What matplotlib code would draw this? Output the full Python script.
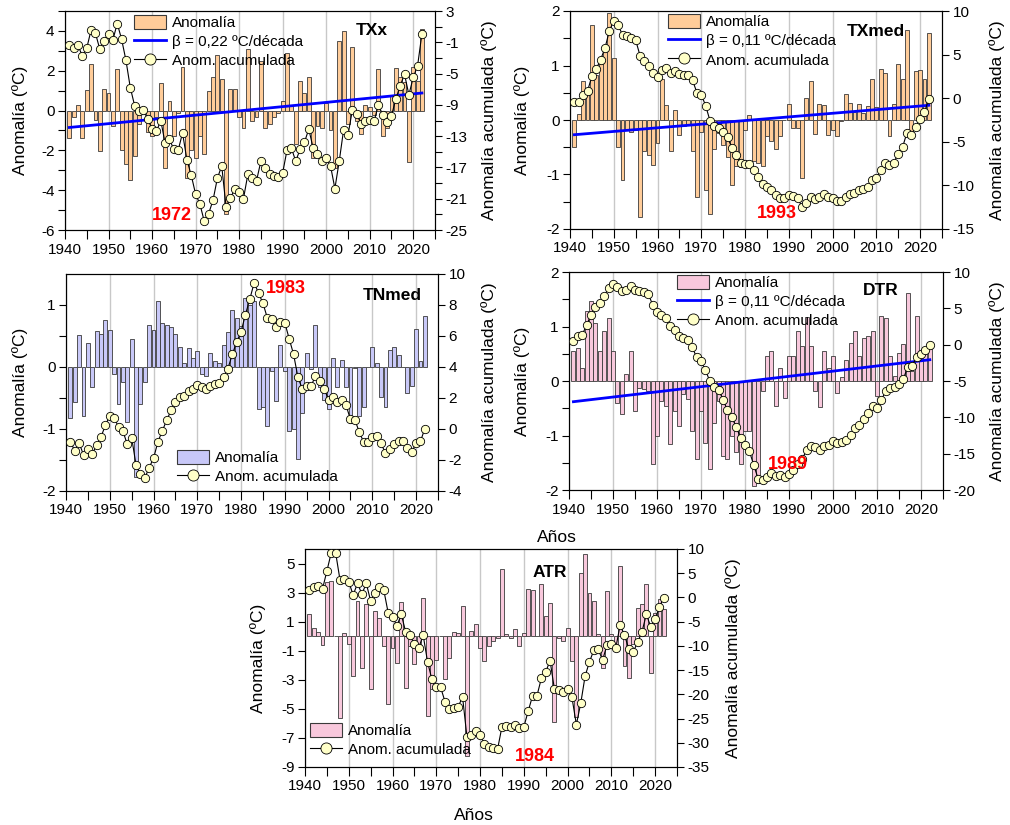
import matplotlib
matplotlib.use("Agg")
import matplotlib.pyplot as plt
from matplotlib.patches import Patch
from matplotlib.lines import Line2D

plt.rcParams['font.family'] = ['Liberation Sans', 'DejaVu Sans']
plt.rcParams['axes.unicode_minus'] = False

# ---------------------------------------------------------------- data
years = list(range(1941, 2023))
decades = [1940, 1950, 1960, 1970, 1980, 1990, 2000, 2010, 2020]
trend_years = [1941, 2022]

anom_txx = [-1.4, -0.3, 0.3, -1.4, 1.05, 2.35, -0.45, -2.05, 1.1, 0.9,
            -0.8, 2.1, -2.0, -2.7, -3.5, -2.3, -0.7, 0.1, -1.1, -1.3,
            -0.3, 1.4, -2.9, 0.5, -1.3, -0.1, 2.2, -3.4, -2.0, -2.4,
            -1.3, -2.2, 1.0, 1.7, 2.8, 1.6, -5.2, 1.1, 1.1, -0.3,
            -0.9, 3.1, -0.5, -0.3, 2.5, -0.9, -0.7, -0.3, -0.1, 0.5,
            2.9, 0.3, -1.7, 1.5, 0.9, 1.7, -2.4, -0.8, -0.9, 0.4,
            -1.0, -2.9, 3.5, 4.0, -0.7, 3.2, -0.5, -1.2, 0.3, 0.2,
            -0.2, 2.1, -1.3, -0.9, 0.8, 2.15, 1.7, 1.45, -2.6, 2.2,
            1.5, 4.1]
cum_txx = [-1.4, -1.7, -1.4, -2.8, -1.75, 0.6, 0.15, -1.9, -0.8, 0.1,
           -0.7, 1.4, -0.6, -3.3, -6.8, -9.1, -9.8, -9.7, -10.8, -12.1,
           -12.4, -11.0, -13.9, -13.4, -14.7, -14.8, -12.6, -16.0, -18.0, -20.4,
           -21.7, -23.9, -22.9, -21.2, -18.4, -16.8, -22.0, -20.9, -19.8, -20.1,
           -21.0, -17.9, -18.4, -18.7, -16.2, -17.1, -17.8, -18.1, -18.2, -17.7,
           -14.8, -14.5, -16.2, -14.7, -13.8, -12.1, -14.5, -15.3, -16.2, -15.8,
           -16.8, -19.7, -16.2, -12.2, -12.9, -9.7, -10.2, -11.4, -11.1, -10.9,
           -11.1, -9.0, -10.3, -11.2, -10.4, -8.25, -6.55, -5.1, -7.7, -5.5,
           -4.0, 0.1]
trend_txx = [-0.85, 0.88]

anom_txmed = [-0.49, 0.11, 0.72, 0.46, 1.74, 0.83, 1.06, 1.33, 1.97, 1.13,
              -0.49, -1.10, -0.19, -0.22, -0.19, -1.78, -0.57, -0.65, -0.83, -0.42,
              0.76, 0.27, -0.57, 0.19, -0.27, -0.11, -0.08, -0.56, -1.41, -0.22,
              -1.29, -1.73, -0.54, -0.23, -0.46, -0.67, -1.20, -0.85, -0.87, -0.18,
              0.10, -0.76, -0.79, -0.84, -0.30, -0.38, -0.53, -0.30, 0.00, 0.30,
              -0.15, -0.15, -1.06, 0.41, 0.72, -0.26, 0.29, 0.28, -0.28, -0.18,
              -0.30, -0.02, 0.47, 0.31, 0.15, 0.30, 0.12, 0.26, 0.76, 0.23,
              0.94, 0.87, -0.30, 0.30, 1.03, 0.76, 1.66, -0.26, 0.90, 0.91,
              0.76, 1.59]
cum_txmed = [-0.49, -0.38, 0.34, 0.8, 2.54, 3.37, 4.43, 5.76, 7.73, 8.86,
             8.37, 7.27, 7.08, 6.86, 6.67, 4.89, 4.32, 3.67, 2.84, 2.42,
             3.18, 3.45, 2.88, 3.07, 2.8, 2.69, 2.61, 2.05, 0.64, 0.42,
             -0.87, -2.6, -3.14, -3.37, -3.83, -4.5, -5.7, -6.55, -7.42, -7.6,
             -7.5, -8.26, -9.05, -9.89, -10.19, -10.57, -11.1, -11.4, -11.4, -11.1,
             -11.25, -11.4, -12.46, -12.05, -11.33, -11.59, -11.3, -11.02, -11.3, -11.48,
             -11.78, -11.8, -11.33, -11.02, -10.87, -10.57, -10.45, -10.19, -9.43, -9.2,
             -8.26, -7.39, -7.69, -7.39, -6.36, -5.6, -3.94, -4.2, -3.3, -2.39,
             -1.63, -0.04]
trend_txmed = [-0.27, 0.27]

anom_tnmed = [-0.83, -0.57, 0.51, -0.79, 0.38, -0.32, 0.58, 0.53, 0.75, 0.60,
              -0.11, -0.60, -0.25, -0.88, 0.45, -1.77, -0.60, -0.25, 0.68, 0.60,
              1.06, 0.71, 0.68, 0.64, 0.53, 0.32, 0.07, 0.31, 0.15, 0.26,
              -0.11, -0.15, 0.22, 0.10, 0.07, 0.36, 0.57, 0.92, 0.79, 0.66,
              1.11, 1.00, 1.06, -0.68, -0.64, -0.95, -0.07, -0.55, 0.36, -0.06,
              -1.03, -1.00, -1.49, -0.75, 0.22, -0.04, 0.68, -0.32, -0.54, -0.68,
              0.15, -0.32, 0.11, -0.32, -0.90, -0.02, -0.79, -0.64, 0.00, 0.32,
              0.07, -0.49, -0.64, 0.27, 0.32, 0.19, 0.00, -0.42, -0.30, 0.62,
              0.10, 0.82]
cum_tnmed = [-0.83, -1.4, -0.89, -1.68, -1.3, -1.62, -1.04, -0.51, 0.24, 0.84,
             0.73, 0.13, -0.12, -1.0, -0.55, -2.32, -2.92, -3.17, -2.49, -1.89,
             -0.83, -0.12, 0.56, 1.2, 1.73, 2.05, 2.12, 2.43, 2.58, 2.84,
             2.73, 2.58, 2.8, 2.9, 2.97, 3.33, 3.9, 4.82, 5.61, 6.27,
             7.38, 8.38, 9.44, 8.76, 8.12, 7.17, 7.1, 6.55, 6.91, 6.85,
             5.82, 4.82, 3.33, 2.58, 2.8, 2.76, 3.44, 3.12, 2.58, 1.9,
             2.05, 1.73, 1.84, 1.52, 0.62, 0.6, -0.19, -0.83, -0.83, -0.51,
             -0.44, -0.93, -1.57, -1.3, -0.98, -0.79, -0.79, -1.21, -1.51, -0.89,
             -0.79, 0.03]

anom_dtr = [0.55, 0.60, 0.23, 1.28, 1.47, 1.06, 0.55, 0.91, 1.15, 0.55,
            -0.41, -0.60, 0.13, 0.55, -0.55, -0.13, -0.14, -0.18, -1.52, -1.00,
            -0.37, -0.46, -1.15, -0.55, -0.82, -0.23, -0.33, -0.91, -1.43, -0.55,
            -1.14, -1.61, -0.77, -0.37, -1.38, -1.43, -1.00, -1.30, -1.53, -0.92,
            -0.92, -1.93, -1.87, -0.19, 0.46, 0.55, -0.46, 0.23, -0.32, 0.46,
            0.45, 0.92, 0.65, 1.18, 0.65, -0.18, -0.47, 0.55, 0.23, 0.46,
            -0.22, 0.07, 0.38, 0.69, 0.92, 0.46, 0.78, 0.82, 0.91, -0.27,
            1.19, 1.15, 0.46, 0.09, 0.51, 0.68, 1.61, 0.18, 1.20, 0.41,
            0.59, 0.69]
cum_dtr = [0.55, 1.15, 1.38, 2.66, 4.13, 5.19, 5.74, 6.65, 7.8, 8.35,
           7.94, 7.34, 7.47, 8.02, 7.47, 7.34, 7.2, 7.02, 5.5, 4.5,
           4.13, 3.67, 2.52, 1.97, 1.15, 0.92, 0.59, -0.32, -1.75, -2.3,
           -3.44, -5.05, -5.82, -6.19, -7.57, -9.0, -10.0, -11.3, -12.83, -13.75,
           -14.67, -16.6, -18.47, -18.66, -18.2, -17.65, -18.11, -17.88, -18.2, -17.74,
           -17.29, -16.37, -15.72, -14.54, -13.89, -14.07, -14.54, -13.99, -13.76, -13.3,
           -13.52, -13.45, -13.07, -12.38, -11.46, -11.0, -10.22, -9.4, -8.49, -8.76,
           -7.57, -6.42, -5.96, -5.87, -5.36, -4.68, -3.07, -2.89, -1.69, -1.28,
           -0.69, 0.0]
trend_dtr = [-0.38, 0.39]

anom_atr = [1.53, 0.55, 0.28, -0.62, 3.71, 3.79, 0.00, -5.64, 0.20, -0.55,
            -2.75, 2.41, -2.21, 2.21, -3.65, 1.72, 1.24, -0.69, -4.68, -0.83,
            -1.86, 2.34, -3.58, -0.69, -1.93, -0.69, 2.62, -5.51, -3.65, -1.65,
            0.00, -2.96, -1.52, 0.28, 0.21, 2.06, -8.26, 0.34, 0.83, -0.83,
            -1.72, -0.69, -0.34, -0.14, 4.61, 0.14, -0.14, 0.48, -0.68, 0.20,
            3.24, 3.17, 0.00, 3.58, 1.38, 2.27, -5.92, -0.14, -0.35, 0.55,
            -1.72, -5.58, 4.34, 5.65, 2.96, 2.41, 0.14, -2.20, 3.10, 0.13,
            -0.82, 4.82, -2.07, -2.89, -0.55, 1.93, 2.20, 3.58, -2.55, 1.59,
            2.55, 1.86]
cum_atr = [1.53, 2.08, 2.36, 1.74, 5.45, 9.24, 9.24, 3.6, 3.8, 3.25,
           0.5, 2.91, 0.7, 2.91, -0.74, 0.98, 2.22, 1.53, -3.15, -3.98,
           -5.84, -3.5, -7.08, -7.77, -9.7, -10.39, -7.77, -13.28, -16.93, -18.58,
           -18.58, -21.54, -23.06, -22.78, -22.57, -20.51, -28.77, -28.43, -27.6, -28.43,
           -30.15, -30.84, -31.18, -31.32, -26.71, -26.57, -26.71, -26.23, -26.91, -26.71,
           -23.47, -20.3, -20.3, -16.72, -15.34, -13.07, -18.99, -19.13, -19.48, -18.93,
           -20.65, -26.23, -21.89, -16.24, -13.28, -10.87, -10.73, -12.93, -9.83, -9.7,
           -10.52, -5.7, -7.77, -10.66, -11.21, -9.28, -7.08, -3.5, -6.05, -4.46,
           -1.91, -0.05]

# ---------------------------------------------------------------- styling
W, H = 1010, 825
fig = plt.figure(figsize=(W / 100, H / 100), dpi=100)

ORANGE = '#ffcc99'
LAVENDER = '#c8c8f8'
PINK = '#f8c8dc'
BAR_EDGE = '#3a3a3a'
MARKER_FILL = '#ffffc8'
TREND_BLUE = '#0000ff'


def add_panel(box, anom, cum, color, left_lim, left_major, left_minor,
              right_lim, right_major, right_minor, legend_at, labels,
              trend=None, name='', name_at=(0.8, 0.9), mark='', mark_at=(0.5, 0.1)):
    x0, x1, y0, y1 = box
    ax = fig.add_axes([x0 / W, 1 - y1 / H, (x1 - x0) / W, (y1 - y0) / H])
    ax.set_xlim(1940, 2025)
    ax.set_ylim(*left_lim)
    ax.set_axisbelow(True)
    ax.grid(axis='x', which='major', color='#c8c8c8', lw=1.0)
    ax.bar(years, anom, width=0.9, color=color, edgecolor=BAR_EDGE,
           linewidth=0.6, zorder=2)
    if trend is not None:
        ax.plot(trend_years, trend, color=TREND_BLUE, lw=2.0, zorder=3)
    ax.set_xticks(decades)
    ax.set_xticklabels([str(d) for d in decades])
    ax.set_xticks(list(range(1945, 2030, 10)), minor=True)
    ax.set_yticks(left_major)
    ax.set_yticks(left_minor, minor=True)

    ax2 = ax.twinx()
    ax2.set_ylim(*right_lim)
    ax2.plot(years, cum, color='black', lw=0.8, marker='o', ms=6,
             mfc=MARKER_FILL, mec='black', mew=0.6, zorder=4)
    ax2.set_yticks(right_major)
    ax2.set_yticks(right_minor, minor=True)

    for a in (ax, ax2):
        a.tick_params(which='both', direction='out', length=5, width=0.8,
                      labelsize=11, pad=2.5)
        for s in a.spines.values():
            s.set_linewidth(0.8)
    ax.tick_params(axis='x', which='both', length=6.5)

    handles = [Patch(facecolor=color, edgecolor=BAR_EDGE, linewidth=0.8)]
    if trend is not None:
        handles.append(Line2D([], [], color=TREND_BLUE, lw=2.0))
    handles.append(Line2D([], [], color='black', lw=0.8, marker='o', ms=8,
                          mfc=MARKER_FILL, mec='black', mew=0.6))
    ax2.legend(handles, labels, loc='upper left', bbox_to_anchor=legend_at,
               frameon=False, fontsize=11, handlelength=2.1, handleheight=1.05,
               handletextpad=0.4, labelspacing=0.25, borderpad=0, borderaxespad=0)
    ax2.text(name_at[0], name_at[1], name, transform=ax2.transAxes, ha='center',
             va='center', fontsize=12.5, fontweight='bold', zorder=6)
    ax2.text(mark_at[0], mark_at[1], mark, transform=ax2.transAxes, ha='center',
             va='center', fontsize=13, fontweight='bold', color='#ff0000', zorder=6)
    return ax, ax2


add_panel((65, 435, 11, 230), anom_txx, cum_txx, ORANGE,
          (-6, 5), [-6, -4, -2, 0, 2, 4], [-5, -3, -1, 1, 3, 5],
          (-25, 3), list(range(-25, 4, 4)), list(range(-23, 4, 4)),
          (0.1865, 0.982),
          ['Anomalía', 'β = 0,22 ºC/década', 'Anom. acumulada'],
          trend=trend_txx, name='TXx', name_at=(0.83, 0.91),
          mark='1972', mark_at=(0.289, 0.064))

add_panel((570, 942, 11, 229), anom_txmed, cum_txmed, ORANGE,
          (-2, 2), [-2, -1, 0, 1, 2], [-1.5, -0.5, 0.5, 1.5],
          (-15, 10), [-15, -10, -5, 0, 5, 10], [],
          (0.2626, 0.986),
          ['Anomalía', 'β = 0,11 ºC/década', 'Anom. acumulada'],
          trend=trend_txmed, name='TXmed', name_at=(0.823, 0.905),
          mark='1993', mark_at=(0.556, 0.069))

add_panel((66, 438, 274, 491), anom_tnmed, cum_tnmed, LAVENDER,
          (-2, 1.5), [-2, -1, 0, 1], [-1.5, -0.5, 0.5],
          (-4, 10), list(range(-4, 11, 2)), [],
          (0.298, 0.189),
          ['Anomalía', 'Anom. acumulada'],
          name='TNmed', name_at=(0.877, 0.899),
          mark='1983', mark_at=(0.592, 0.935))

add_panel((569, 943, 272, 490), anom_dtr, cum_dtr, PINK,
          (-2, 2), [-2, -1, 0, 1, 2], [-1.5, -0.5, 0.5, 1.5],
          (-20, 10), list(range(-20, 11, 5)), [],
          (0.2885, 0.9876),
          ['Anomalía', 'β = 0,11 ºC/década', 'Anom. acumulada'],
          trend=trend_dtr, name='DTR', name_at=(0.833, 0.914),
          mark='1989', mark_at=(0.586, 0.119))

add_panel((305, 677, 549, 767), anom_atr, cum_atr, PINK,
          (-9, 6), list(range(-9, 6, 2)), [],
          (-35, 10), list(range(-35, 11, 5)), [],
          (0.0127, 0.2018),
          ['Anomalía', 'Anom. acumulada'],
          name='ATR', name_at=(0.659, 0.894),
          mark='1984', mark_at=(0.618, 0.046))

# axis titles placed in figure pixels
left_label = 'Anomalía (ºC)'
right_label = 'Anomalía acumulada (ºC)'
for (px, py, txt) in [(20, 120, left_label), (489, 120, right_label),
                      (522, 120, left_label), (997, 120, right_label),
                      (20, 382, left_label), (489, 382, right_label),
                      (522, 381, left_label), (997, 381, right_label),
                      (258, 658, left_label), (733, 658, right_label)]:
    fig.text(px / W, 1 - py / H, txt, rotation=90, ha='center', va='center',
             fontsize=12.5)

for (px, py) in [(557, 537), (474, 815)]:
    fig.text(px / W, 1 - py / H, 'Años', ha='center', va='center', fontsize=12.5)

fig.savefig('out.png', dpi=100)
